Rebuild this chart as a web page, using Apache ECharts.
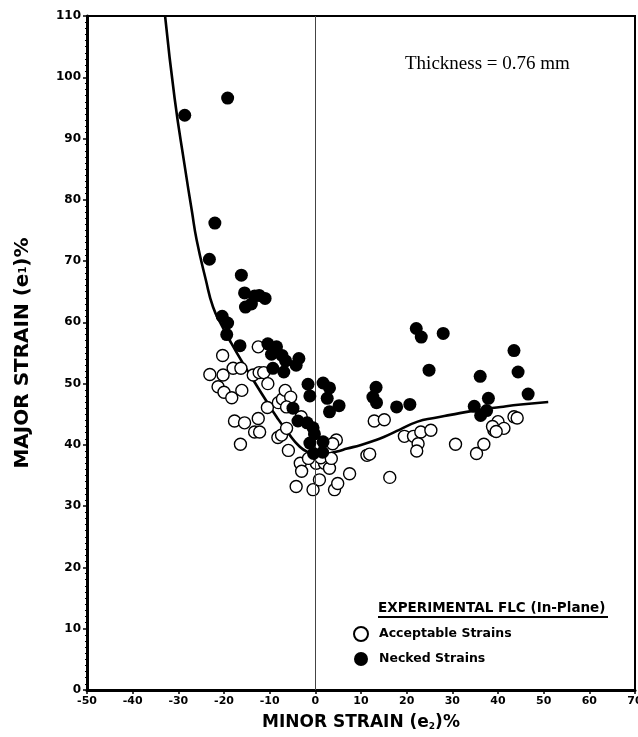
<!DOCTYPE html>
<html>
<head>
<meta charset="utf-8">
<script src="https://cdn.jsdelivr.net/npm/echarts@6/dist/echarts.min.js"></script>
<style>
html,body{margin:0;padding:0;background:#fff;}
#chart{width:638px;height:737px;}
</style>
</head>
<body>
<div id="chart"></div>
<script>
// Necked strains [minor e2 %, major e1 %]
var neckedStrains = [
  [-28.6,93.8],[-19.2,96.6],[-22,76.2],[-23.2,70.3],[-16.2,67.7],
  [-15.5,64.8],[-13.3,64.3],[-12.3,64.4],[-11,63.9],[-15.3,62.5],[-14,63],
  [-20.4,61],[-19.2,59.9],[-19.4,58],[-16.5,56.2],
  [-10.4,56.5],[-8.5,56],[-9.6,54.8],[-7.3,54.6],[-6.5,53.7],[-3.6,54.1],[-4.2,53],[-9.3,52.5],[-6.9,51.9],
  [-1.6,49.9],[-1.2,48],[-4.9,46],[-3.8,43.9],[-1.8,43.6],[-0.5,42.8],[-0.2,41.8],
  [-1.2,40.3],[1.7,40.5],[-0.4,38.6],[1.6,38.8],
  [1.7,50.1],[3.1,49.3],[2.6,47.6],[5.2,46.4],[3.1,45.4],
  [13.3,49.4],[12.6,47.8],[13.4,46.9],[17.8,46.2],[20.7,46.6],
  [22.1,59],[23.2,57.6],[28,58.2],[24.9,52.2],
  [36.1,51.2],[43.5,55.4],[44.4,51.9],[46.6,48.3],[37.9,47.6],[34.8,46.3],[36.2,44.8],[37.5,45.6]
];
// Acceptable strains [minor e2 %, major e1 %]
var acceptableStrains = [
  [-23.1,51.5],[-20.3,54.6],[-20.2,51.4],[-18,52.5],[-16.3,52.5],[-21.3,49.5],[-20,48.6],[-18.3,47.7],
  [-16.1,48.9],[-13.6,51.4],[-12.3,51.8],[-11.3,51.8],[-12.5,56],[-10.4,50],
  [-17.7,43.9],[-15.5,43.6],[-12.5,44.3],[-13.3,42.1],[-12.2,42.1],[-16.4,40.1],
  [-10.5,46.1],[-8.1,46.9],[-7.2,47.5],[-6.6,48.9],[-5.4,47.8],[-6.3,46.2],
  [-8.2,41.2],[-7.4,41.6],[-6.3,42.7],[-5.9,39.1],[-3.1,44.6],
  [-3.3,37],[-3.0,35.7],[-4.2,33.2],[-0.5,32.7],[0.2,37],[2,37],[3.1,36.2],[0.9,34.3],[4.2,32.7],[4.9,33.7],[7.5,35.3],
  [-1.5,37.8],[1.2,37.9],[3.5,37.8],
  [4.6,40.8],[3.8,40.2],[11.3,38.3],[11.9,38.5],
  [12.9,43.9],[15.1,44.1],[16.3,34.7],[19.5,41.4],[21.5,41.4],[23.1,42.1],[25.3,42.4],[22.5,40.2],[22.2,39],[30.7,40.1],
  [35.3,38.6],[36.9,40.1],[39.1,42.4],[40,43.8],[41.3,42.7],[43.5,44.6],[44.2,44.4],[38.8,43],[39.6,42.2]
];
// Forming limit curve
var flcCurve = [
  [-32.9,110],[-30.8,96.5],[-28.6,85.5],[-27,78],[-26,73.5],[-24,67],[-22.4,62.5],[-20.5,59.5],
  [-18.7,57],[-16,53.5],[-13.6,50.6],[-11,47.5],[-8.5,44.6],[-6,42],[-3.4,39.7],[-1.5,38.8],
  [0,38.5],[2,38.5],[4.5,38.9],[7,39.4],[10,40],[12.5,40.6],[15,41.3],[18.5,42.5],[22.4,43.8],
  [26,44.4],[29.6,44.9],[34.8,45.6],[40.6,46.2],[45,46.6],[51,47]
];
var xTicks = [-50,-40,-30,-20,-10,0,10,20,30,40,50,60,70];
var yTicks = [0,10,20,30,40,50,60,70,80,90,100,110];

var chart = echarts.init(document.getElementById('chart'), null, {renderer:'canvas'});
var boldFont = 'DejaVu Sans';
var option = {
  animation:false,
  backgroundColor:'#fff',
  grid:{left:87,right:3,top:16,bottom:47,show:true,borderColor:'#000',borderWidth:2,backgroundColor:'transparent',
        outerBoundsMode:'none',containLabel:false},
  legend:{
    data:['Acceptable Strains','Necked Strains'],
    orient:'vertical', left:353, top:626, padding:0, itemWidth:14, itemHeight:14, itemGap:10,
    textStyle:{fontFamily:boldFont,fontWeight:'bold',fontSize:12.5,color:'#000',padding:[0,0,0,6]}
  },
  xAxis:{
    type:'value', min:xTicks[0], max:xTicks[xTicks.length-1], interval:10,
    name:'MINOR STRAIN (e{sub|2})%', nameLocation:'middle', nameGap:24,
    nameTextStyle:{fontFamily:boldFont,fontWeight:'bold',fontSize:17,color:'#000',
      rich:{sub:{fontFamily:boldFont,fontWeight:'bold',fontSize:9,verticalAlign:'bottom',padding:[8,0,0,0]}}},
    axisLine:{onZero:false,lineStyle:{color:'#000',width:3}},
    axisTick:{length:4,lineStyle:{color:'#000',width:1.5}},
    minorTick:{show:true,splitNumber:5,length:2,lineStyle:{color:'#000'}},
    axisLabel:{fontFamily:boldFont,fontWeight:'bold',fontSize:11,color:'#000',margin:6},
    splitLine:{show:false}
  },
  yAxis:{
    type:'value', min:yTicks[0], max:yTicks[yTicks.length-1], interval:10,
    name:'MAJOR STRAIN (e{sub|1})%', nameLocation:'middle', nameGap:54,
    nameTextStyle:{fontFamily:boldFont,fontWeight:'bold',fontSize:20,color:'#000',
      rich:{sub:{fontFamily:boldFont,fontWeight:'bold',fontSize:10}}},
    axisLine:{onZero:false,lineStyle:{color:'#000',width:3}},
    axisTick:{length:4,lineStyle:{color:'#000',width:1.5}},
    minorTick:{show:true,splitNumber:10,length:2,lineStyle:{color:'#000'}},
    axisLabel:{fontFamily:boldFont,fontWeight:'bold',fontSize:12,color:'#000',margin:6},
    splitLine:{show:false}
  },
  graphic:[
    {type:'text',left:405,top:55,style:{text:'Thickness = 0.76 mm',fontFamily:'Liberation Serif',fontSize:19,fill:'#000'}},
    {type:'text',left:378,top:601,style:{text:'EXPERIMENTAL FLC (In-Plane)',fontFamily:boldFont,fontWeight:'bold',fontSize:13.5,fill:'#000'}},
    {type:'line',shape:{x1:378,y1:617,x2:608,y2:617},style:{stroke:'#000',lineWidth:2}}
  ],
  series:[
    {
      name:'FLC', type:'line', data:flcCurve, smooth:true, symbol:'none',
      lineStyle:{color:'#000',width:2.6}, z:3,
      markLine:{silent:true,symbol:'none',label:{show:false},lineStyle:{color:'#444',width:1,type:'solid'},data:[{xAxis:0}]}
    },
    {
      name:'Acceptable Strains', type:'scatter', data:acceptableStrains, symbol:'circle', symbolSize:12,
      itemStyle:{color:'#fff',borderColor:'#000',borderWidth:1.4,opacity:1}, z:4
    },
    {
      name:'Necked Strains', type:'scatter', data:neckedStrains, symbol:'circle', symbolSize:13,
      itemStyle:{color:'#000',borderColor:'#000',borderWidth:0,opacity:1}, z:5
    }
  ]
};
chart.setOption(option);
</script>
</body>
</html>
